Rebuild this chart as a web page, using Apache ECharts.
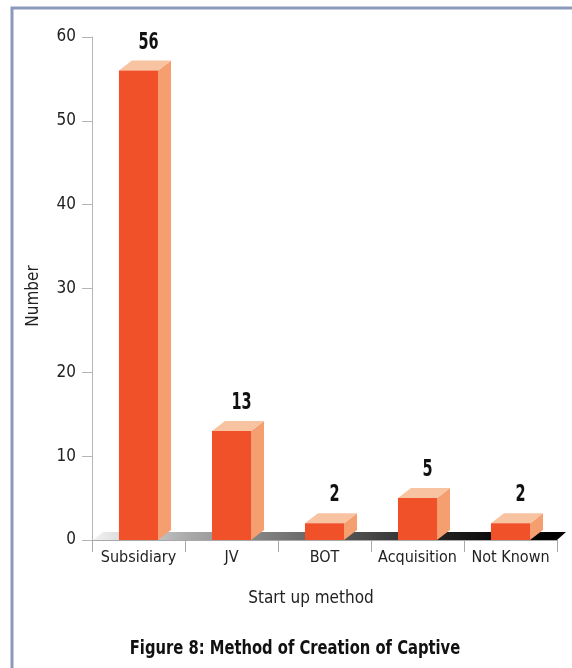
<!DOCTYPE html>
<html>
<head>
<meta charset="utf-8">
<script src="https://cdn.jsdelivr.net/npm/echarts@6/dist/echarts.min.js"></script>
<style>
  html, body { margin: 0; padding: 0; background: #fff; }
  #chart { width: 572px; height: 668px; }
</style>
</head>
<body>
<div id="chart"></div>
<script>
// data
var categories = ['Subsidiary', 'JV', 'BOT', 'Acquisition', 'Not Known']
var counts = [56, 13, 2, 5, 2]
var yTicks = [0, 10, 20, 30, 40, 50, 60]

var FONT = '"Liberation Sans Narrow", "DejaVu Sans Condensed", sans-serif'
var DX = 13, DY = 10 // 3d depth of the bars

var mychart = echarts.init(document.getElementById('chart'))

// 3d bar: front, side, top + value label
function renderBar (params, api) {
  var idx = api.value(0)
  var base = api.coord([idx, 0])
  var top = api.coord([idx, api.value(1)])
  var w = api.size([1, 0])[0] * 0.42
  var x0 = base[0] - w / 2
  var x1 = x0 + w
  var y0 = base[1]
  var y1 = top[1]
  return {
    type: 'group',
    children: [
      {
        type: 'polygon',
        shape: { points: [[x1, y0], [x1 + DX, y0 - DY], [x1 + DX, y1 - DY], [x1, y1]] },
        style: { fill: '#f59e70' }
      },
      {
        type: 'polygon',
        shape: { points: [[x0, y1], [x1, y1], [x1 + DX, y1 - DY], [x0 + DX, y1 - DY]] },
        style: { fill: '#f7c3a0' }
      },
      {
        type: 'rect',
        shape: { x: x0, y: y1, width: w, height: y0 - y1 },
        style: { fill: '#f05128' }
      },
      {
        type: 'text',
        x: x0 + w / 2 + 10,
        y: y1 - DY - 18,
        scaleX: 0.7,
        style: {
          text: String(api.value(1)),
          font: 'bold 23px ' + FONT,
          fill: '#111',
          align: 'center',
          verticalAlign: 'middle'
        }
      }
    ]
  }
}

// floor slab under the bars
function renderFloor (params) {
  var cs = params.coordSys
  var bx0 = cs.x + 1, bx1 = cs.x + cs.width, by = cs.y + cs.height
  return {
    type: 'polygon',
    shape: { points: [[bx0, by], [bx1, by], [bx1 + 9, by - 8], [bx0 + 10, by - 8]] },
    style: {
      fill: new echarts.graphic.LinearGradient(0, 0, 1, 0, [
        { offset: 0, color: '#f2f2f2' },
        { offset: 0.2, color: '#aaaaaa' },
        { offset: 0.45, color: '#6a6a6a' },
        { offset: 0.68, color: '#2e2e2e' },
        { offset: 0.85, color: '#0a0a0a' },
        { offset: 1, color: '#000' }
      ])
    }
  }
}

var option = {
  animation: false,
  grid: { left: 92, right: 15, top: 37, bottom: 128 },
  graphic: [
    {
      type: 'rect',
      shape: { x: 12, y: 8, width: 700, height: 800 },
      style: { fill: 'none', stroke: '#8a99bd', lineWidth: 3 },
      silent: true
    },
    {
      type: 'text',
      x: 34, y: 296,
      rotation: Math.PI / 2,
      style: {
        text: 'Number', font: '17px ' + FONT, fill: '#222',
        align: 'center', verticalAlign: 'middle'
      }
    },
    {
      type: 'text',
      x: 311, y: 599,
      style: {
        text: 'Start up method', font: '17px ' + FONT, fill: '#222',
        align: 'center', verticalAlign: 'middle'
      }
    },
    {
      type: 'text',
      x: 295, y: 649,
      scaleX: 0.82,
      style: {
        text: 'Figure 8: Method of Creation of Captive', font: 'bold 20px ' + FONT, fill: '#111',
        align: 'center', verticalAlign: 'middle'
      }
    }
  ],
  xAxis: {
    type: 'category',
    data: categories,
    axisLine: { lineStyle: { color: '#a8a8a8', width: 1 } },
    axisTick: { show: true, interval: 0, length: 12, lineStyle: { color: '#a8a8a8' } },
    axisLabel: { interval: 0, color: '#222', fontFamily: FONT, fontSize: 16, margin: 10 }
  },
  yAxis: {
    type: 'value',
    min: yTicks[0],
    max: yTicks[yTicks.length - 1],
    interval: yTicks[1] - yTicks[0],
    axisLine: { show: true, lineStyle: { color: '#b5b5b5', width: 1 } },
    axisTick: { show: true, length: 10, lineStyle: { color: '#b5b5b5' } },
    axisLabel: { color: '#222', fontFamily: FONT, fontSize: 17, margin: 16 },
    splitLine: { show: false }
  },
  series: [
    {
      type: 'custom',
      renderItem: renderFloor,
      data: [[0, 0]],
      z: 1,
      silent: true
    },
    {
      type: 'custom',
      renderItem: renderBar,
      data: counts.map(function (v, i) { return [i, v] }),
      encode: { x: 0, y: 1 },
      z: 2
    }
  ]
}
mychart.setOption(option)
</script>
</body>
</html>
